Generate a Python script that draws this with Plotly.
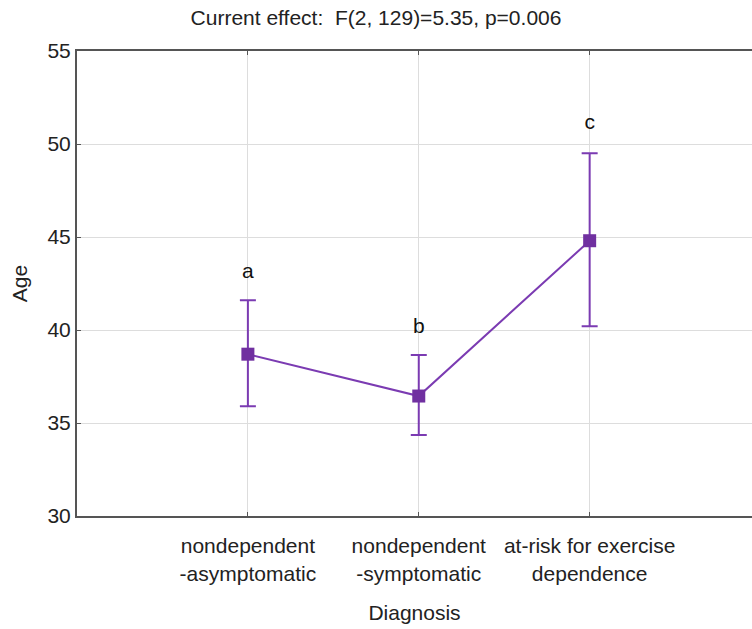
import plotly.graph_objects as go

categories = ["nondependent<br>-asymptomatic", "nondependent<br>-symptomatic", "at-risk for exercise<br>dependence"]
means = [38.7, 36.45, 44.8]
upper = [41.6, 38.65, 49.5]
lower = [35.9, 34.35, 40.2]
letters = ["a", "b", "c"]
letter_y = [43.1, 40.1, 51.1]
y_ticks = [30, 35, 40, 45, 50, 55]

xs = list(range(len(categories)))
font = "Liberation Sans, Arial, sans-serif"
purple = "#7030A0"
line_purple = "#7B3BB2"

fig = go.Figure()
fig.add_trace(go.Scatter(
    x=xs, y=means, mode="lines+markers",
    line=dict(color=line_purple, width=2),
    marker=dict(symbol="square", size=13, color=purple),
    error_y=dict(type="data", symmetric=False,
                 array=[u - m for u, m in zip(upper, means)],
                 arrayminus=[m - l for m, l in zip(means, lower)],
                 color=line_purple, thickness=2, width=8),
    showlegend=False,
))
fig.add_trace(go.Scatter(
    x=xs, y=letter_y, mode="text", text=letters,
    textfont=dict(family=font, size=21, color="#111"),
    showlegend=False, hoverinfo="skip",
))

fig.update_layout(
    width=752, height=629,
    margin=dict(l=77, r=0, t=51, b=113),
    paper_bgcolor="white", plot_bgcolor="white",
    font=dict(family=font, size=21, color="#222"),
    title=dict(text="Current effect:  F(2, 129)=5.35, p=0.006", x=0.5, xanchor="center",
               y=0.972, yanchor="middle", font=dict(size=21, color="#222")),
)
fig.update_xaxes(
    range=[-1, 2.95], tickvals=xs, ticktext=categories,
    showgrid=True, gridcolor="#dddddd", gridwidth=1,
    showline=True, linecolor="#555", linewidth=2, mirror="ticks",
    ticks="inside", ticklen=4, tickcolor="#555",
    tickfont=dict(size=21), zeroline=False, ticklabelstandoff=10,
    title=dict(text="Diagnosis", font=dict(size=21), standoff=22),
)
fig.update_yaxes(
    range=[30, 55], tickvals=y_ticks,
    showgrid=True, gridcolor="#dddddd", gridwidth=1,
    showline=True, linecolor="#555", linewidth=2,
    ticks="inside", ticklen=4, tickcolor="#555",
    tickfont=dict(size=21), zeroline=False,
    title=dict(text="Age", font=dict(size=21), standoff=14),
)

fig.write_html("out.html")
